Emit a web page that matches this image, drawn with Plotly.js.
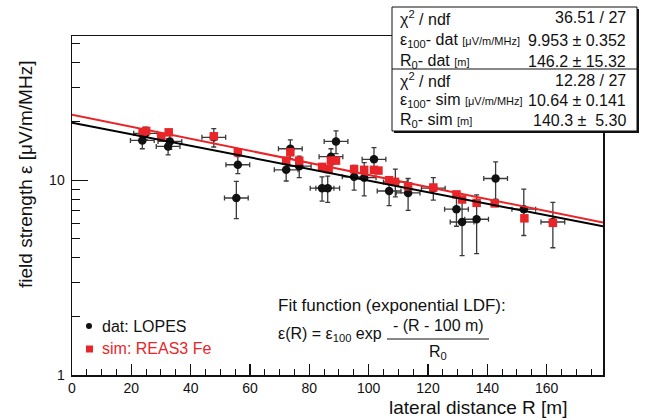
<!DOCTYPE html>
<html>
<head>
<meta charset="utf-8">
<script src="https://cdn.plot.ly/plotly-3.0.1.min.js"></script>
<style>body{margin:0;padding:0;background:#fff}#chart{width:649px;height:420px}</style>
</head>
<body>
<div id="chart"></div>
<script>
// ---- data: LOPES (black) ----
var datR   = [23.7, 24.8, 32.4, 33.0, 47.8, 55.4, 55.9, 72.2, 73.6, 76.6, 84.3, 86.2, 87.3, 89.0, 95.1, 98.5, 101.8, 106.9, 109.0, 113.3, 121.8, 129.6, 131.5, 136.4, 142.8, 152.3, 162.1];
var datEps = [16.0, 17.4, 14.9, 15.8, 16.6, 8.1, 12.0, 11.3, 14.5, 11.8, 9.1, 9.1, 13.2, 15.8, 10.4, 10.3, 12.8, 8.8, 9.8, 8.6, 9.1, 7.1, 6.1, 6.3, 10.2, 7.1, 6.1];
var datErrEps = [1.5, 1.3, 1.4, 1.4, 1.8, 1.75, 1.2, 1.4, 1.6, 1.5, 1.3, 1.4, 1.3, 2.1, 1.5, 2.0, 1.9, 1.4, 1.6, 1.6, 1.2, 1.3, 2.0, 2.1, 2.2, 1.9, 1.6];
var datErrR = 4;
// ---- simulation: REAS3 Fe (red) ----
var simR   = [23.8, 25.0, 30.1, 32.6, 47.8, 55.9, 72.2, 73.6, 76.6, 84.3, 86.5, 87.3, 89.0, 95.1, 98.5, 101.8, 103.3, 106.9, 108.9, 113.3, 121.8, 129.6, 131.5, 136.4, 142.5, 152.5, 162.1];
var simEps = [17.6, 17.9, 16.7, 17.6, 16.8, 13.9, 12.6, 13.9, 12.6, 11.7, 11.4, 12.6, 12.6, 11.4, 11.3, 11.3, 11.2, 10.0, 9.8, 9.3, 9.17, 8.45, 7.96, 7.65, 7.6, 6.37, 6.04];
// ---- fit parameters (from stats box) ----
var fitDat = {eps100: 9.953, R0: 146.2};
var fitSim = {eps100: 10.64, R0: 140.3};
var statLabels = ["χ<sup>2</sup> / ndf", "ε<sub>100</sub>- dat <span style='font-size:11px'>[μV/m/MHz]</span>", "R<sub>0</sub>- dat <span style='font-size:11px'>[m]</span>",
                  "χ<sup>2</sup> / ndf", "ε<sub>100</sub>- sim <span style='font-size:11px'>[μV/m/MHz]</span>", "R<sub>0</sub>- sim <span style='font-size:11px'>[m]</span>"];
var statValues = ["36.51 / 27", "9.953 ± 0.352", "146.2 ± 15.32", "12.28 / 27", "10.64 ± 0.141", "140.3 ±  5.30"];
var xRange = [0, 179];

function fitCurve(p) {
  var xs = [], ys = [];
  for (var r = xRange[0]; r <= xRange[1]; r += 1) { xs.push(r); ys.push(p.eps100 * Math.exp(-(r - 100) / p.R0)); }
  return {x: xs, y: ys};
}
var cd = fitCurve(fitDat), cs = fitCurve(fitSim);

var FONT = "Liberation Sans, Arial, sans-serif";
var L = 72, R = 603, T = 36, B = 375;
function px(x) { return (x - L) / (R - L); }
function py(y) { return (B - y) / (B - T); }

var traces = [
  {x: datR, y: datEps, type: 'scatter', mode: 'markers', name: 'dat: LOPES',
   marker: {symbol: 'circle', size: 8.5, color: '#111'},
   error_y: {type: 'data', array: datErrEps, color: '#3a3a3a', thickness: 1.3, width: 2.5},
   error_x: {type: 'constant', value: datErrR, color: '#3a3a3a', thickness: 1.3, width: 2.5}},
  {x: simR, y: simEps, type: 'scatter', mode: 'markers', name: 'sim: REAS3 Fe',
   marker: {symbol: 'square', size: 8.5, color: '#e8262a'}},
  {x: cd.x, y: cd.y, type: 'scatter', mode: 'lines', line: {color: '#000', width: 2}, hoverinfo: 'skip'},
  {x: cs.x, y: cs.y, type: 'scatter', mode: 'lines', line: {color: '#e8262a', width: 2}, hoverinfo: 'skip'}
];

var ann = [];
function addText(text, x, y, size, xanchor, color, extra) {
  var a = {text: text, xref: 'paper', yref: 'paper', x: px(x), y: py(y), xanchor: xanchor || 'left', yanchor: 'middle',
    showarrow: false, font: {family: FONT, size: size, color: color || '#111'}};
  if (extra) for (var k in extra) a[k] = extra[k];
  ann.push(a);
}
// axis titles
addText("field strength ε [μV/m/MHz]", 25, 175, 19, 'center', '#111', {textangle: -90});
addText("lateral distance R [m]", 387, 407, 19, 'left');
// legend
addText("dat: LOPES", 100, 326, 16, 'left');
addText("sim: REAS3 Fe", 100, 348, 16, 'left', '#e8262a');
// fit function text
addText("Fit function (exponential LDF):", 276, 305, 17, 'left');
addText("ε(R) = ε<sub>100</sub> exp", 276, 334, 16, 'left');
addText("- (R - 100 m)", 438, 325, 16, 'center');
addText("R<sub>0</sub>", 438, 352, 16, 'center');
// stats box
var rowsY = [18, 40, 61, 80, 100, 120];
var boxL = 392, boxR = 637, boxT = 7, boxB = 131, boxDiv = 69;
for (var i = 0; i < statLabels.length; i++) {
  addText(statLabels[i], boxL + 6, rowsY[i], 16, 'left');
  addText(statValues[i], 628, rowsY[i], 16, 'right');
}

var shapes = [
  // legend markers
  {type: 'circle', xref: 'paper', yref: 'paper', x0: px(86), x1: px(92), y0: py(323), y1: py(329), fillcolor: '#111', line: {width: 0}},
  {type: 'rect', xref: 'paper', yref: 'paper', x0: px(86), x1: px(93), y0: py(345.5), y1: py(352.5), fillcolor: '#e8262a', line: {width: 0}},
  // fraction bar
  {type: 'line', xref: 'paper', yref: 'paper', x0: px(387), x1: px(489), y0: py(339), y1: py(339), line: {color: '#111', width: 1}},
  // stats box shadow + box
  {type: 'rect', xref: 'paper', yref: 'paper', layer: 'above', x0: px(boxL + 2), x1: px(boxR + 2), y0: py(boxB + 2), y1: py(boxT + 2), fillcolor: '#111', line: {width: 0}},
  {type: 'rect', xref: 'paper', yref: 'paper', layer: 'above', x0: px(boxL), x1: px(boxR), y0: py(boxB), y1: py(boxT), fillcolor: '#fff', line: {color: '#111', width: 1}},
  {type: 'line', xref: 'paper', yref: 'paper', layer: 'above', x0: px(boxL), x1: px(boxR), y0: py(boxDiv), y1: py(boxDiv), line: {color: '#111', width: 1}}
];

var layout = {
  width: 649, height: 420,
  margin: {l: L, r: 649 - R, t: T, b: 420 - B, pad: 0},
  paper_bgcolor: '#fff', plot_bgcolor: '#fff',
  showlegend: false,
  font: {family: FONT, color: '#111'},
  xaxis: {range: xRange, showgrid: false, zeroline: false, showline: true, linecolor: '#111', linewidth: 1.5, mirror: true,
    ticks: 'inside', ticklen: 11, tickwidth: 1.2, tickcolor: '#111', tick0: 0, dtick: 20,
    minor: {ticks: 'inside', ticklen: 6, tickwidth: 1, tickcolor: '#111', dtick: 5},
    tickfont: {family: FONT, size: 14, color: '#111'}},
  yaxis: {type: 'log', range: [0, 1.74], showgrid: false, zeroline: false, showline: true, linecolor: '#111', linewidth: 1.5, mirror: true,
    ticks: 'inside', ticklen: 16, tickwidth: 1.2, tickcolor: '#111', tickmode: 'array', tickvals: [1, 10], ticktext: ['1', '10'],
    minor: {ticks: 'inside', ticklen: 8, tickwidth: 1, tickcolor: '#111', tickmode: 'array', tickvals: [2, 3, 4, 5, 6, 7, 8, 9, 20, 30, 40, 50]},
    ticklabelstandoff: 3,
    tickfont: {family: FONT, size: 14, color: '#111'}},
  annotations: ann,
  shapes: shapes
};
Plotly.newPlot('chart', traces, layout, {displayModeBar: false, staticPlot: true});
</script>
</body>
</html>
